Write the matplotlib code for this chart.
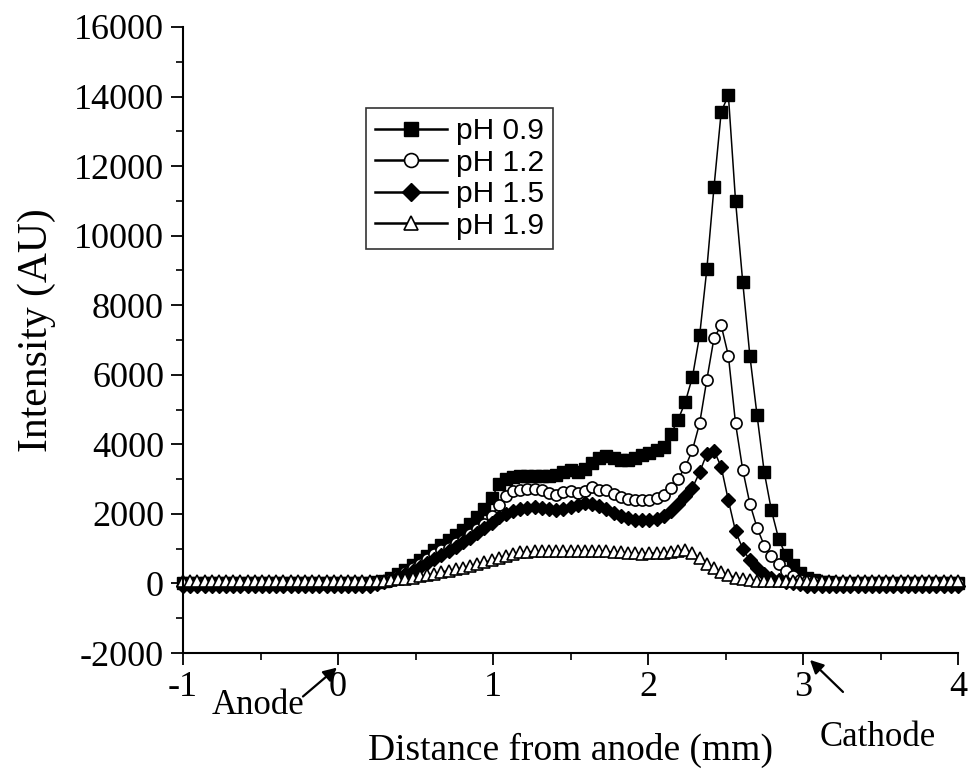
import numpy as np
import matplotlib.pyplot as plt
from matplotlib.ticker import MultipleLocator

plt.rcParams['axes.unicode_minus'] = False

# ---- data -------------------------------------------------------------
x_start, x_end, n_pts = -1.0, 4.0, 109
distance = np.linspace(x_start, x_end, n_pts)   # sampling grid (mm)

ph09 = [0]*26 + [10, 30,
        60, 150, 270, 400, 530, 660, 800, 950, 1100, 1250,
        1400, 1550, 1700, 1900, 2150, 2450, 2850, 3000, 3050, 3080,
        3100, 3100, 3100, 3080, 3120, 3200, 3250, 3200, 3300, 3450,
        3620, 3660, 3600, 3540, 3560, 3600, 3680, 3760, 3840, 3920,
        4300, 4710, 5220, 5940, 7140, 9040, 11400, 13560, 14040, 11000,
        8670, 6540, 4830, 3200, 2100, 1290, 810, 520, 300, 160,
        90, 50, 30, 15] + [0]*17

ph12 = [20]*27 + [30,
        60, 120, 210, 320, 440, 570, 700, 860, 950, 1030,
        1150, 1260, 1420, 1560, 1720, 1950, 2250, 2520, 2660, 2700,
        2710, 2720, 2690, 2600, 2540, 2620, 2670, 2590, 2670, 2780,
        2700, 2690, 2580, 2500, 2440, 2390, 2390, 2410, 2470, 2550,
        2750, 3010, 3350, 3840, 4610, 5860, 7060, 7420, 6550, 4600,
        3270, 2290, 1600, 1090, 780, 550, 350, 200, 110, 60,
        40] + [20]*20

ph15 = [-60]*27 + [-30,
        30, 100, 180, 270, 370, 470, 580, 700, 820, 940,
        1060, 1180, 1320, 1460, 1600, 1750, 1900, 2000, 2080, 2150,
        2180, 2200, 2180, 2150, 2110, 2130, 2200, 2250, 2300, 2290,
        2230, 2130, 2020, 1930, 1870, 1830, 1820, 1820, 1850, 1940,
        2080, 2280, 2520, 2750, 3200, 3730, 3820, 3350, 2390, 1500,
        1000, 660, 430, 280, 170, 100, 40, 0, -30] + [-60]*22

ph19 = [70]*28 + [
        80, 95, 115, 140, 170, 200, 240, 280, 330, 370,
        410, 450, 500, 550, 610, 670, 740, 800, 860, 890,
        910, 920, 920, 930, 930, 920, 930, 940, 940, 940,
        930, 920, 900, 890, 880, 870, 860, 870, 880, 880,
        900, 940, 970, 880, 720, 570, 440, 330, 240, 170,
        130, 100] + [70]*29

series_labels = ['pH 0.9', 'pH 1.2', 'pH 1.5', 'pH 1.9']
x_ticks = [-1, 0, 1, 2, 3, 4]
y_ticks = [-2000, 0, 2000, 4000, 6000, 8000, 10000, 12000, 14000, 16000]

# ---- figure -----------------------------------------------------------
W, H = 971, 776
fig = plt.figure(figsize=(W/100, H/100), dpi=100)
ax = fig.add_axes([183/W, 123/H, 775/W, 626/H])

serif = 'Liberation Serif'
styles = [
    dict(marker='s', ms=8, mfc='black', mec='black'),
    dict(marker='o', ms=8, mfc='white', mec='black', mew=1.2),
    dict(marker='D', ms=7, mfc='black', mec='black'),
    dict(marker='^', ms=8.5, mfc='white', mec='black', mew=1.2),
]
for yv, lab, st in zip([ph09, ph12, ph15, ph19], series_labels, styles):
    ax.plot(distance, yv, color='black', lw=1.1, label=lab, clip_on=False, **st)

ax.set_xlim(-1, 4)
ax.set_ylim(-2000, 16000)
ax.set_xticks(x_ticks)
ax.set_yticks(y_ticks)
ax.xaxis.set_minor_locator(MultipleLocator(0.5))
ax.yaxis.set_minor_locator(MultipleLocator(1000))

for s in ['top', 'right']:
    ax.spines[s].set_visible(False)
for s in ['left', 'bottom']:
    ax.spines[s].set_linewidth(1.5)

ax.tick_params(which='major', direction='out', length=8.6, width=1.3, labelsize=26)
ax.tick_params(axis='y', which='major', pad=5)
ax.tick_params(axis='x', which='major', pad=4)
ax.tick_params(which='minor', direction='out', length=5, width=1.2)
for t in ax.get_xticklabels() + ax.get_yticklabels():
    t.set_fontfamily(serif)

ax.set_xlabel('Distance from anode (mm)', fontsize=27, family=serif, va='center')
ax.xaxis.set_label_coords(0.5, (653 - 750) / 626)
ax.set_ylabel('Intensity (AU)', fontsize=30, family=serif, va='center')
ax.yaxis.set_label_coords((37 - 183) / 775, (653 - 330) / 626)

leg = ax.legend(loc='upper left', bbox_to_anchor=(366/W, 1 - 108/H),
                bbox_transform=fig.transFigure, frameon=True, fancybox=False,
                edgecolor='black', handlelength=2.4, handletextpad=0.3,
                labelspacing=0.12, borderpad=0.3, borderaxespad=0,
                markerscale=1.25,
                prop={'family': 'Liberation Sans', 'size': 21.5})
leg.get_frame().set_linewidth(1.2)
for ln in leg.get_lines():
    ln.set_linewidth(1.8)

# annotations (text and arrows)
ax.text(-0.516, -3500, 'Anode', fontsize=25, family=serif,
        ha='center', va='center', clip_on=False)
ax.annotate('', xy=(-0.007, -2420), xytext=(-0.226, -3250),
            annotation_clip=False,
            arrowprops=dict(arrowstyle='-|>', color='black', lw=1.6,
                            mutation_scale=20, shrinkA=0, shrinkB=0))
ax.text(3.484, -4440, 'Cathode', fontsize=25, family=serif,
        ha='center', va='center', clip_on=False)
ax.annotate('', xy=(3.045, -2200), xytext=(3.258, -3120),
            annotation_clip=False,
            arrowprops=dict(arrowstyle='-|>', color='black', lw=1.6,
                            mutation_scale=20, shrinkA=0, shrinkB=0))

fig.savefig('out.png', dpi=100)
